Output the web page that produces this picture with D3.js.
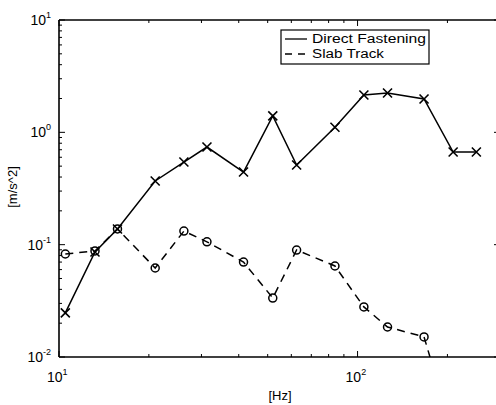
<!DOCTYPE html>
<html>
<head>
<meta charset="utf-8">
<script src="https://cdn.jsdelivr.net/npm/d3@7"></script>
<style>
  body { margin: 0; background: #fff; }
  svg { font-family: "Liberation Sans", Arial, sans-serif; }
</style>
</head>
<body>
<svg id="chart"></svg>
<script>
// frequency bands [Hz]
const freqs = [10.5, 13.2, 15.7, 21, 26.2, 31.3, 41.5, 52, 62.5, 84, 105, 126, 167, 209, 250];
// Direct Fastening [m/s^2]
const directFastening = [0.0247, 0.086, 0.138, 0.369, 0.544, 0.74, 0.443, 1.4, 0.512, 1.11, 2.15, 2.24, 1.98, 0.668, 0.668];
// Slab Track [m/s^2]
const slabTrack = [0.0826, 0.0879, 0.138, 0.062, 0.132, 0.106, 0.07, 0.0335, 0.0896, 0.0646, 0.0279, 0.0185, 0.0151, 0.002];
const seriesNames = ["Direct Fastening", "Slab Track"];
const xMajor = [10, 100];
const yMajor = [0.01, 0.1, 1, 10];

const width = 496;
const height = 405;
const plotLeft = 59, plotRight = 500, plotTop = 20, plotBottom = 357;

const svg = d3.select("#chart").attr("width", width).attr("height", height);

const x = d3.scaleLog().domain([10, 300]).range([plotLeft, plotRight]);
const y = d3.scaleLog().domain([0.01, 10]).range([plotBottom, plotTop]);

// minor tick values
const xMinor = [];
[10, 100].forEach((d) => {
  for (let k = 2; k <= 9; k++) if (d * k <= 300) xMinor.push(d * k);
});
const yMinor = [];
[0.01, 0.1, 1].forEach((d) => {
  for (let k = 2; k <= 9; k++) yMinor.push(d * k);
});

const frame = svg.append("g").attr("stroke", "#000").attr("stroke-width", 1.6);
frame.append("line").attr("x1", plotLeft).attr("x2", plotLeft).attr("y1", plotTop).attr("y2", plotBottom);
frame.append("line").attr("x1", plotLeft).attr("x2", plotRight).attr("y1", plotBottom).attr("y2", plotBottom);
frame.append("line").attr("x1", plotLeft).attr("x2", plotRight).attr("y1", plotTop).attr("y2", plotTop);
frame.append("line").attr("x1", plotRight).attr("x2", plotRight).attr("y1", plotTop).attr("y2", plotBottom);

// inward ticks
const ticks = svg.append("g").attr("stroke", "#000").attr("stroke-width", 1);
function xTicks(vals, len) {
  vals.forEach((v) => {
    ticks.append("line").attr("x1", x(v)).attr("x2", x(v)).attr("y1", plotBottom).attr("y2", plotBottom - len);
    ticks.append("line").attr("x1", x(v)).attr("x2", x(v)).attr("y1", plotTop).attr("y2", plotTop + len);
  });
}
function yTicks(vals, len) {
  vals.forEach((v) => {
    ticks.append("line").attr("x1", plotLeft).attr("x2", plotLeft + len).attr("y1", y(v)).attr("y2", y(v));
    ticks.append("line").attr("x1", plotRight).attr("x2", plotRight - len).attr("y1", y(v)).attr("y2", y(v));
  });
}
xTicks(xMajor, 6);
xTicks(xMinor, 3);
yTicks(yMajor, 6);
yTicks(yMinor, 3);

// tick labels with exponents
function power(v) { return Math.round(Math.log10(v)); }
yMajor.forEach((v) => {
  const t = svg.append("text")
    .attr("x", 51).attr("y", y(v) + 5)
    .attr("text-anchor", "end")
    .attr("font-size", 14);
  t.append("tspan").text("10");
  t.append("tspan").attr("dy", -7).attr("font-size", 9).text(power(v));
});
xMajor.forEach((v) => {
  const t = svg.append("text")
    .attr("x", x(v) - 12).attr("y", 382)
    .attr("font-size", 14);
  t.append("tspan").text("10");
  t.append("tspan").attr("dy", -7).attr("font-size", 9).text(power(v));
});

svg.append("text").attr("x", 280).attr("y", 400)
  .attr("text-anchor", "middle").attr("font-size", 13).text("[Hz]");
svg.append("text")
  .attr("transform", "translate(17,187) rotate(-90)")
  .attr("text-anchor", "middle").attr("font-size", 13).text("[m/s^2]");

// data
svg.append("clipPath").attr("id", "plot")
  .append("rect").attr("x", plotLeft).attr("y", plotTop)
  .attr("width", plotRight - plotLeft).attr("height", plotBottom - plotTop);

const line = d3.line().x((d) => x(d[0])).y((d) => y(d[1]));
const dfData = freqs.map((f, i) => [f, directFastening[i]]);
const stData = slabTrack.map((v, i) => [freqs[i], v]);

const plot = svg.append("g").attr("clip-path", "url(#plot)");

plot.append("path").datum(stData)
  .attr("d", line).attr("fill", "none")
  .attr("stroke", "#000").attr("stroke-width", 1.5)
  .attr("stroke-dasharray", "8,6");
plot.selectAll("circle.st").data(stData.filter((d) => d[1] >= 0.01)).enter()
  .append("circle")
  .attr("cx", (d) => x(d[0])).attr("cy", (d) => y(d[1]))
  .attr("r", 4).attr("fill", "none")
  .attr("stroke", "#000").attr("stroke-width", 1.5);

plot.append("path").datum(dfData)
  .attr("d", line).attr("fill", "none")
  .attr("stroke", "#000").attr("stroke-width", 1.5);
const s = 4.5;
plot.selectAll("path.df").data(dfData).enter()
  .append("path")
  .attr("d", (d) => {
    const cx = x(d[0]), cy = y(d[1]);
    return `M${cx - s},${cy - s}L${cx + s},${cy + s}M${cx - s},${cy + s}L${cx + s},${cy - s}`;
  })
  .attr("stroke", "#000").attr("stroke-width", 1.6);

// legend
const lg = svg.append("g");
lg.append("rect").attr("x", 281).attr("y", 30).attr("width", 148).attr("height", 34)
  .attr("fill", "#fff").attr("stroke", "#000").attr("stroke-width", 1.2);
seriesNames.forEach((name, i) => {
  const ly = 39 + i * 15;
  lg.append("line").attr("x1", 285).attr("x2", 307).attr("y1", ly).attr("y2", ly)
    .attr("stroke", "#000").attr("stroke-width", 1.3)
    .attr("stroke-dasharray", i === 1 ? "7,6" : null);
  lg.append("text").attr("x", 312).attr("y", ly + 4)
    .attr("font-size", 12)
    .attr("textLength", i === 0 ? 114 : 72)
    .attr("lengthAdjust", "spacingAndGlyphs")
    .text(name);
});
</script>
</body>
</html>
